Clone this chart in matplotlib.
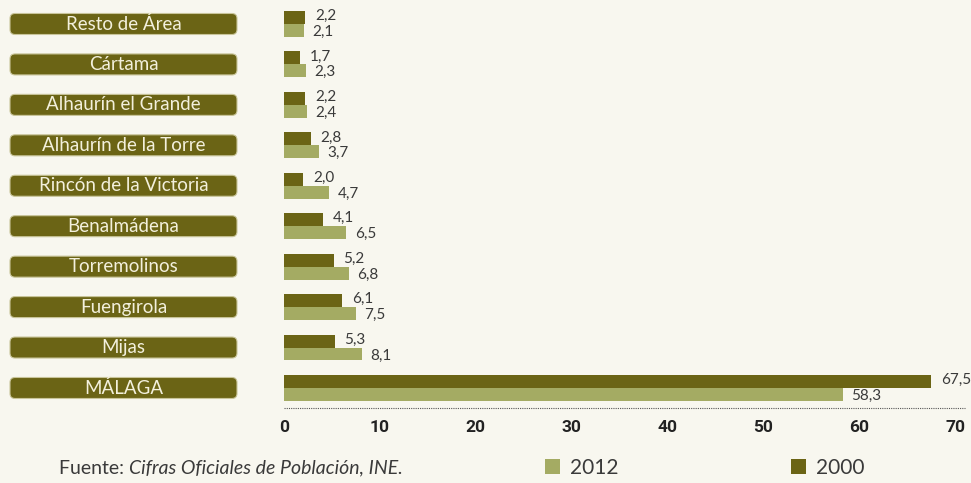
import matplotlib.pyplot as plt
from matplotlib.patches import FancyBboxPatch, Patch
from matplotlib.transforms import IdentityTransform

# datos
municipios = ["Resto de Área", "Cártama", "Alhaurín el Grande", "Alhaurín de la Torre",
              "Rincón de la Victoria", "Benalmádena", "Torremolinos", "Fuengirola",
              "Mijas", "MÁLAGA"]
v2000 = [2.2, 1.7, 2.2, 2.8, 2.0, 4.1, 5.2, 6.1, 5.3, 67.5]
v2012 = [2.1, 2.3, 2.4, 3.7, 4.7, 6.5, 6.8, 7.5, 8.1, 58.3]
ticks_x = [0, 10, 20, 30, 40, 50, 60, 70]

fondo = "#f8f7ef"
oscuro = "#6b6415"
claro = "#a4ab63"
gris = "#3a3a3a"

plt.rcParams['font.family'] = ['Lato', 'DejaVu Sans']

fig = plt.figure(figsize=(9.71, 4.83), dpi=100, facecolor=fondo)
ax = fig.add_axes([284 / 971, 75 / 483, (955 - 284) / 971, 408 / 483])
ax.set_facecolor(fondo)

alto = 0.32
pos = list(range(len(municipios)))
ax.barh([p - alto / 2 for p in pos], v2000, height=alto, color=oscuro)
ax.barh([p + alto / 2 for p in pos], v2012, height=alto, color=claro)

def coma(v):
    return f"{v:.1f}".replace('.', ',')

for p, a, b in zip(pos, v2000, v2012):
    ax.annotate(coma(a), (a, p - alto / 2), xytext=(7, 1), textcoords='offset points',
                ha='left', va='center', fontsize=11, color=gris)
    ax.annotate(coma(b), (b, p + alto / 2), xytext=(6, -1), textcoords='offset points',
                ha='left', va='center', fontsize=11, color=gris)

ax.set_xlim(0, 70)
ax.set_ylim(9.495, -0.593)
ax.set_xticks(ticks_x)
ax.set_xticklabels([str(t) for t in ticks_x], fontsize=12.5, fontweight='bold',
                   color='#222222', family=['Roboto', 'DejaVu Sans'])
ax.set_yticks([])
ax.tick_params(axis='x', length=0, pad=9)
for s in ax.spines.values():
    s.set_visible(False)

# linea punteada inferior
ax.plot([0, 71], [9.495, 9.495], ls=(0, (1, 1)), lw=0.8, color='#555555', clip_on=False)

# cajas con los nombres
for p, nombre in zip(pos, municipios):
    yd = ax.transData.transform((0, p))[1]
    caja = FancyBboxPatch((10, yd - 10.5), 227, 21, boxstyle="round,pad=0,rounding_size=5",
                          transform=IdentityTransform(), fc=oscuro, ec='#c9c59a', lw=0.8)
    fig.add_artist(caja)
    fig.text(123.5 / 971, yd / 483, nombre, ha='center', va='center', fontsize=13.5,
             color='#f3f0dc')

# fuente
t1 = fig.text(59 / 971, 15 / 483, "Fuente: ", ha='left', va='center', fontsize=14, color=gris)
ax.annotate("Cifras Oficiales de Población, INE.", xy=(1, 0.5), xycoords=t1,
            ha='left', va='center', fontsize=14, style='italic', color=gris)

# leyenda
manejadores = [Patch(fc=claro, ec='none', label='2012'), Patch(fc=oscuro, ec='none', label='2000')]
ley = fig.legend(handles=manejadores, loc='center', bbox_to_anchor=(705 / 971, 15 / 483), ncol=2,
                 frameon=False, handlelength=0.7, handleheight=0.7,
                 handletextpad=0.5, columnspacing=8.3,
                 prop={'family': ['Lato', 'DejaVu Sans'], 'size': 15})
for t in ley.get_texts():
    t.set_color(gris)

fig.savefig("out.png", dpi=100, facecolor=fondo)
